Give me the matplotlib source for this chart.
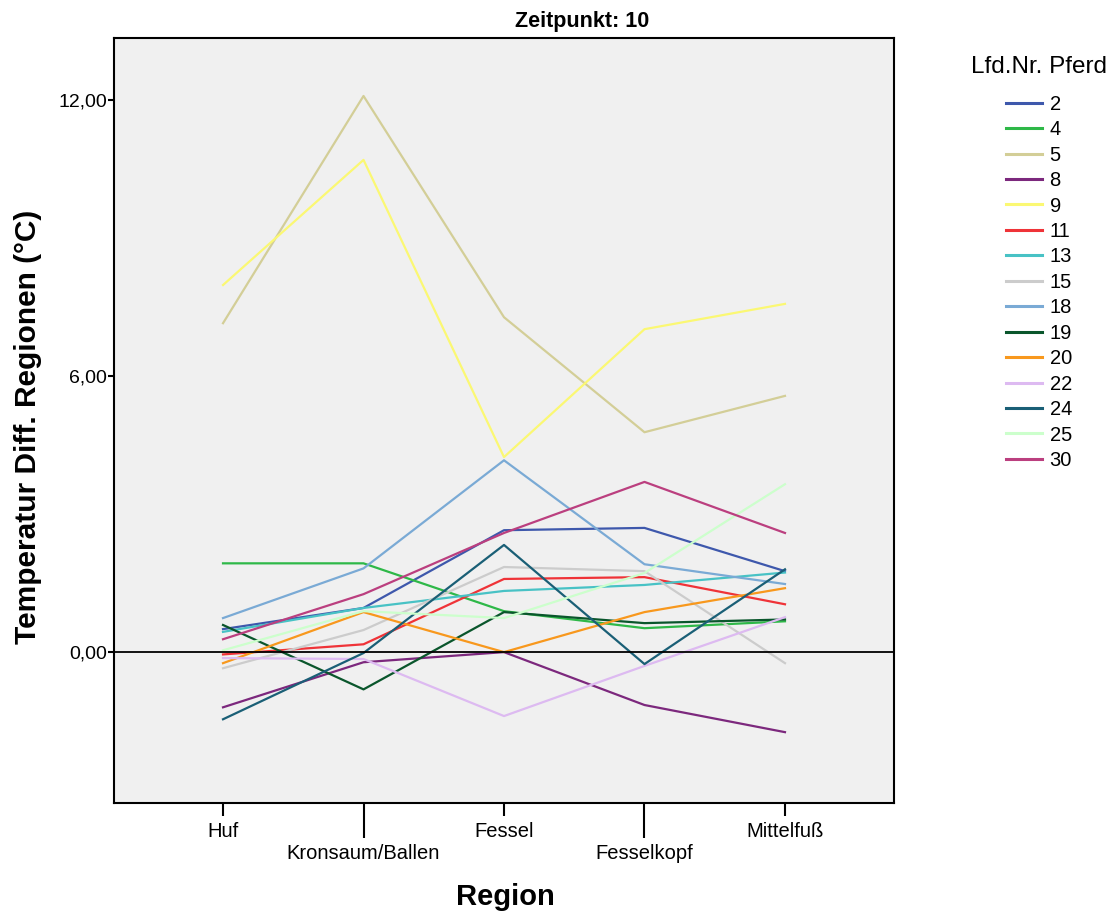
import matplotlib
matplotlib.use("Agg")
import matplotlib.pyplot as plt

plt.rcParams['font.family'] = ['Liberation Sans', 'DejaVu Sans']

regions = ["Huf", "Kronsaum/Ballen", "Fessel", "Fesselkopf", "Mittelfuß"]
horses = ["2", "4", "5", "8", "9", "11", "13", "15", "18", "19", "20", "22", "24", "25", "30"]

v2  = [0.50, 0.96, 2.65, 2.70, 1.76]
v4  = [1.93, 1.93, 0.89, 0.52, 0.67]
v5  = [7.15, 12.09, 7.28, 4.78, 5.57]
v8  = [-1.20, -0.22, 0.00, -1.15, -1.74]
v9  = [7.98, 10.70, 4.24, 7.02, 7.57]
v11 = [-0.05, 0.17, 1.59, 1.63, 1.04]
v13 = [0.44, 0.96, 1.33, 1.46, 1.73]
v15 = [-0.35, 0.48, 1.85, 1.76, -0.24]
v18 = [0.74, 1.82, 4.17, 1.91, 1.48]
v19 = [0.59, -0.81, 0.87, 0.63, 0.71]
v20 = [-0.24, 0.87, 0.00, 0.87, 1.39]
v22 = [-0.13, -0.15, -1.39, -0.30, 0.76]
v24 = [-1.46, -0.02, 2.33, -0.26, 1.80]
v25 = [0.04, 0.89, 0.74, 1.72, 3.65]
v30 = [0.28, 1.26, 2.59, 3.70, 2.59]

series = [v2, v4, v5, v8, v9, v11, v13, v15, v18, v19, v20, v22, v24, v25, v30]
colors = ["#3E58AC", "#2EB848", "#D3CE97", "#7C287D", "#FBF873", "#EF3338",
          "#48C2C5", "#CCCCCC", "#7AAAD5", "#0A562C", "#F8981D", "#DDBAF1",
          "#1A5F76", "#CCFFCC", "#BB3F7F"]

yticks = [0, 6, 12]
ytick_labels = ["0,00", "6,00", "12,00"]

W, H = 1113, 913
fig = plt.figure(figsize=(W/100, H/100), dpi=100)
ax = fig.add_axes([114/W, 1-803/H, (894-114)/W, (803-38)/H])
ax.set_facecolor("#F0F0F0")

x = list(range(len(regions)))
for vals, c, name in zip(series, colors, horses):
    ax.plot(x, vals, color=c, lw=1.6, label=name)

ax.axhline(0, color="black", lw=1.3, zorder=5)

ax.set_xlim(-0.776, 4.776)
ax.set_ylim(-3.28, 13.35)

ax.set_yticks(yticks)
ax.set_yticklabels(ytick_labels, fontsize=14)
ax.tick_params(axis='y', length=4.5, width=1.5, pad=0.5)

ax.set_xticks([0, 2, 4])
ax.set_xticklabels([regions[0], regions[2], regions[4]], fontsize=14.5)
ax.set_xticks([1, 3], minor=True)
ax.set_xticklabels([regions[1], regions[3]], minor=True, fontsize=14.5)
ax.tick_params(axis='x', which='major', length=9, width=1.5, pad=4.5)
ax.tick_params(axis='x', which='minor', length=25, width=1.5, pad=4.5)

for s in ax.spines.values():
    s.set_linewidth(1.5)
    s.set_color("black")

fig.text(28/W, 1-427/H, "Temperatur Diff. Regionen (°C)", fontsize=21.5,
         fontweight='bold', rotation=90, ha='center', va='center')
fig.text(505/W, 1-897/H, "Region", fontsize=21, fontweight='bold',
         ha='center', va='center')
fig.text(582/W, 1-22/H, "Zeitpunkt: 10", fontsize=15.5, fontweight='bold',
         ha='center', va='center')

leg = ax.legend(loc='upper left', bbox_to_anchor=(963/W, 1-48/H),
                bbox_transform=fig.transFigure, frameon=False,
                title="Lfd.Nr. Pferd", title_fontsize=17.5, fontsize=14.5,
                handlelength=1.8, handletextpad=0.35, labelspacing=0.32,
                borderaxespad=0, alignment='center')
for h in leg.legend_handles:
    h.set_linewidth(2.2)
leg._legend_box.sep = 12

fig.savefig("out.png", dpi=100)
